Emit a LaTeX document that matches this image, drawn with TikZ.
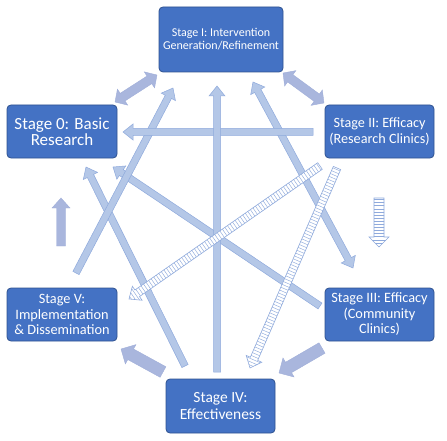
\documentclass[tikz,border=0pt]{standalone}
\usepackage{fontspec}
\setmainfont{Carlito}
\usetikzlibrary{calc}
\definecolor{boxfill}{HTML}{4472C4}
\definecolor{boxline}{HTML}{2F528F}
\definecolor{arrfill}{HTML}{B4C7E7}
\definecolor{arrline}{HTML}{8FAADC}
\definecolor{lavfill}{HTML}{A9B6DD}
\definecolor{lavline}{HTML}{A0AED9}

\newcommand\arrowgeom[3]{%
  \pgfpointdiff{\pgfpointanchor{#1}{center}}{\pgfpointanchor{#2}{center}}%
  \pgfgetlastxy{\badx}{\bady}%
  \pgfmathsetmacro\baang{atan2(\bady,\badx)}%
  \pgfmathsetmacro\balen{veclen(\badx,\bady)}%
  \pgfmathsetmacro\bab{\balen-#3}%
  \pgfmathsetmacro\baa{#3}}

% single block arrow: [style]{from}{to}{shaft half width}{head half width}{head length}
\newcommand\sarrow[6][]{%
  \arrowgeom{#2}{#3}{#6}%
  \begin{scope}[shift={(#2)},rotate=\baang]
    \path[#1] (0pt,#4pt) -- (\bab pt,#4pt) -- (\bab pt,#5pt) -- (\balen pt,0pt)
      -- (\bab pt,-#5pt) -- (\bab pt,-#4pt) -- (0pt,-#4pt) -- cycle;
  \end{scope}}

% double block arrow
\newcommand\darrow[6][]{%
  \arrowgeom{#2}{#3}{#6}%
  \begin{scope}[shift={(#2)},rotate=\baang]
    \path[#1] (0pt,0pt) -- (\baa pt,#5pt) -- (\baa pt,#4pt) -- (\bab pt,#4pt) -- (\bab pt,#5pt)
      -- (\balen pt,0pt) -- (\bab pt,-#5pt) -- (\bab pt,-#4pt) -- (\baa pt,-#4pt)
      -- (\baa pt,-#5pt) -- cycle;
  \end{scope}}

% hatched single block arrow: {from}{to}{sw}{hw}{hl}
\newcommand\harrow[5]{%
  \arrowgeom{#1}{#2}{#5}%
  \begin{scope}[shift={(#1)},rotate=\baang]
    \def\hpoly{(0pt,#3pt) -- (\bab pt,#3pt) -- (\bab pt,#4pt) -- (\balen pt,0pt)
      -- (\bab pt,-#4pt) -- (\bab pt,-#3pt) -- (0pt,-#3pt) -- cycle}
    \begin{scope}
      \clip \hpoly;
      \fill[white] \hpoly;
      \foreach \s in {1.5,4.6,...,\balen} \draw[hatchline] (\s pt,-14pt) -- (\s pt,14pt);
    \end{scope}
    \draw[hatchedge] \hpoly;
  \end{scope}}

\tikzset{
  stagebox/.style={draw=boxline, fill=boxfill, rounded corners=4pt, text=white,
    align=center, line width=0.8pt, inner sep=0pt, font=\fontsize{14.3}{15.5}\selectfont},
  lightarr/.style={fill=arrfill, draw=arrline, line width=0.5pt},
  lavarr/.style={fill=lavfill, draw=lavline, line width=0.4pt},
  hatchline/.style={draw=arrline, line width=0.45pt},
  hatchedge/.style={draw=arrline, line width=0.6pt}
}

\begin{document}
\begin{tikzpicture}[x=1pt,y=-1pt]
\useasboundingbox (0,0) rectangle (447,441);

% boxes
\node[stagebox, minimum width=124pt, minimum height=65pt, font=\fontsize{12}{13}\selectfont]
  (s1) at (221,39.5) {Stage I: Intervention\\Generation/Refinement};
\node[stagebox, minimum width=110pt, minimum height=53pt, font=\fontsize{17}{16}\selectfont] (s0) at (62,131.5) {Stage 0: Basic\\Research};
\node[stagebox, minimum width=109pt, minimum height=53pt, font=\fontsize{14.2}{16}\selectfont] (s2) at (379.5,131.5) {Stage II: Efficacy\\(Research Clinics)};
\node[stagebox, minimum width=110pt, minimum height=53pt] (s5) at (62,314.5) {Stage V:\\Implementation\\\& Dissemination};
\node[stagebox, minimum width=109pt, minimum height=53pt] (s3) at (379.5,314.5) {Stage III: Efficacy\\(Community\\Clinics)};
\node[stagebox, minimum width=109pt, minimum height=54pt, font=\fontsize{15.5}{16.3}\selectfont] (s4) at (220.5,406) {Stage IV:\\Effectiveness};

% arrow end points
\coordinate (a1s) at (115,102); \coordinate (a1e) at (157,75);
\coordinate (a2s) at (283,73);  \coordinate (a2e) at (324,103);
\coordinate (a3s) at (313,132); \coordinate (a3e) at (123,132);
\coordinate (a4s) at (217,372); \coordinate (a4e) at (217,86);
\coordinate (a5s) at (76,273);  \coordinate (a5e) at (173,88);
\coordinate (a6s) at (185,366); \coordinate (a6e) at (86,167);
\coordinate (a7s) at (320,306); \coordinate (a7e) at (113,167);
\coordinate (a8s) at (253,82);  \coordinate (a8e) at (353,268);
\coordinate (h1s) at (320,166); \coordinate (h1e) at (129,299);
\coordinate (h2s) at (337,168); \coordinate (h2e) at (250,368);
\coordinate (h3s) at (379,198); \coordinate (h3e) at (379,247);
\coordinate (l1s) at (61,246);  \coordinate (l1e) at (61,198);
\coordinate (l2s) at (322,348); \coordinate (l2e) at (279,373);
\coordinate (l3s) at (163,372); \coordinate (l3e) at (121,349);

% thick lavender arrows
\darrow[lavarr]{a1s}{a1e}{4.5}{9.5}{9}
\darrow[lavarr]{a2s}{a2e}{4.5}{9.5}{9}
\sarrow[lavarr]{l1s}{l1e}{4.5}{9}{10}
\sarrow[lavarr]{l2s}{l2e}{6}{11}{11}
\sarrow[lavarr]{l3s}{l3e}{6}{11}{11}

% light blue arrows
\sarrow[lightarr]{a7s}{a7e}{3.5}{8}{10}
\sarrow[lightarr]{a6s}{a6e}{3.5}{8}{10}
\sarrow[lightarr]{a5s}{a5e}{3.5}{8}{10}
\darrow[lightarr]{a8s}{a8e}{3.5}{8}{10}
\sarrow[lightarr]{a3s}{a3e}{3.5}{8}{10}
\sarrow[lightarr]{a4s}{a4e}{3.5}{8}{10}

% hatched arrows
\harrow{h1s}{h1e}{4}{8.5}{10}
\harrow{h2s}{h2e}{4}{8.5}{10}
\harrow{h3s}{h3e}{5}{10}{10}
\end{tikzpicture}
\end{document}
